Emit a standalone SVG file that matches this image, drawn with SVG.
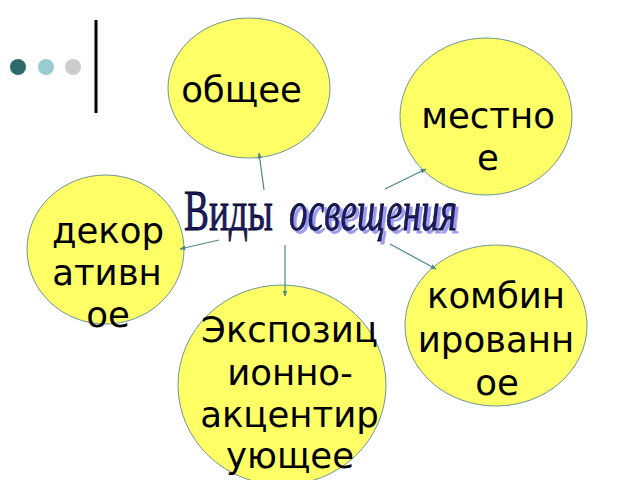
<svg xmlns="http://www.w3.org/2000/svg" width="640" height="480" viewBox="0 0 640 480">
<defs>
<style>
.node{fill:#ffff66;stroke:#6f9494;stroke-width:1}
.lbl{font-family:"DejaVu Sans",sans-serif;font-size:35.5px;fill:#000;text-anchor:middle}
.conn{stroke:#4f8585;stroke-width:1.2;fill:none;marker-end:url(#ah)}
.title{font-family:"Liberation Serif",serif;font-size:57px;fill:#1c1c66;stroke:#000020;stroke-width:0.8}
</style>
<marker id="ah" viewBox="0 0 10 10" refX="9" refY="5" markerWidth="6" markerHeight="6" orient="auto" markerUnits="userSpaceOnUse">
<path d="M0,1 L10,5 L0,9 z" fill="#4f8585"/>
</marker>
<filter id="shadow" x="-5%" y="-20%" width="115%" height="150%">
<feOffset in="SourceAlpha" dx="4.3" dy="3" result="off"/>
<feFlood flood-color="#9a9af0"/>
<feComposite in2="off" operator="in" result="sh"/>
<feMerge><feMergeNode in="sh"/><feMergeNode in="SourceGraphic"/></feMerge>
</filter>
</defs>
<rect width="640" height="480" fill="#fff"/>
<g id="decor">
<circle cx="18" cy="67" r="8" fill="#2f6a6a"/>
<circle cx="46" cy="67" r="8" fill="#99cccc"/>
<circle cx="73" cy="67" r="8" fill="#cccccc"/>
<line x1="96" y1="20" x2="96" y2="113" stroke="#000" stroke-width="3"/>
</g>
<g id="node-obshchee">
<ellipse class="node" cx="249" cy="88" rx="81" ry="70"/>
<text class="lbl" x="241.5" y="102">общее</text>
</g>
<g id="node-mestnoe">
<ellipse class="node" cx="486" cy="116.5" rx="86" ry="78.5"/>
<text class="lbl" x="488" y="128">местно</text>
<text class="lbl" x="488" y="170">е</text>
</g>
<g id="node-dekorativnoe">
<ellipse class="node" cx="105.5" cy="249.5" rx="78.5" ry="74.5"/>
<text class="lbl" x="108" y="243">декор</text>
<text class="lbl" x="107" y="285">ативн</text>
<text class="lbl" x="108" y="327">ое</text>
</g>
<g id="node-kombinirovannoe">
<ellipse class="node" cx="496" cy="325.5" rx="91" ry="80.5"/>
<text class="lbl" x="496" y="308">комбин</text>
<text class="lbl" x="496" y="352">ированн</text>
<text class="lbl" x="497" y="395">ое</text>
</g>
<g id="node-ekspozitsionno">
<ellipse class="node" cx="282" cy="385" rx="104" ry="100"/>
<text class="lbl" x="289.5" y="342">Экспозиц</text>
<text class="lbl" x="290" y="385">ионно-</text>
<text class="lbl" x="289.5" y="427">акцентир</text>
<text class="lbl" x="290" y="468">ующее</text>
</g>
<g id="title" transform="scale(0.7,1)">
<text class="title" x="262.9" y="230" textLength="127" lengthAdjust="spacingAndGlyphs">Виды</text>
<text class="title" x="412.9" y="230" font-style="italic" filter="url(#shadow)" textLength="240" lengthAdjust="spacingAndGlyphs">освещения</text>
</g>
<g id="connectors">
<line class="conn" x1="264" y1="190" x2="259" y2="153"/>
<line class="conn" x1="385" y1="189" x2="426" y2="169"/>
<line class="conn" x1="219" y1="240" x2="180" y2="249"/>
<line class="conn" x1="285" y1="245" x2="285" y2="296"/>
<line class="conn" x1="390" y1="244" x2="436" y2="269"/>
</g>
</svg>
